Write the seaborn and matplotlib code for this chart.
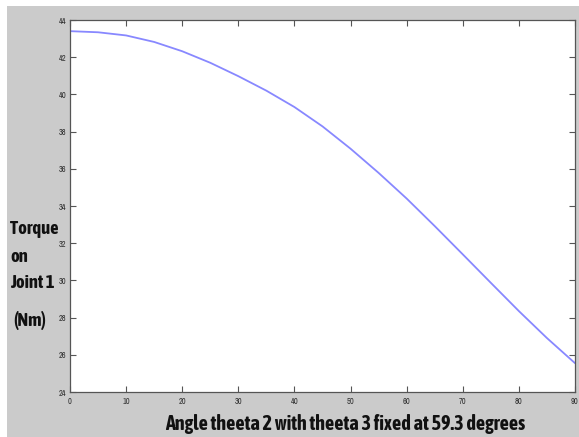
import matplotlib
matplotlib.use("Agg")
import matplotlib.pyplot as plt
from matplotlib import font_manager
from matplotlib.patches import Rectangle
import seaborn as sns

# Joint-1 torque as theta 2 sweeps, with theta 3 held at 59.3 degrees
angle_deg = [0, 5, 10, 15, 20, 25, 30, 35, 40, 45, 50, 55, 60, 65, 70, 75, 80, 85, 90]
torque_nm = [43.40, 43.34, 43.17, 42.82, 42.32, 41.70, 40.98, 40.20, 39.32, 38.28,
             37.08, 35.78, 34.40, 32.92, 31.40, 29.87, 28.35, 26.90, 25.55]

x_ticks = [0, 10, 20, 30, 40, 50, 60, 70, 80, 90]
y_ticks = [24, 26, 28, 30, 32, 34, 36, 38, 40, 42, 44]

ylabel_lines = ["Torque", "on", "Joint 1", "(Nm)"]
xlabel_text = "Angle theeta 2 with theeta 3 fixed at 59.3 degrees"

sns.set_theme(style="ticks")


def _weight(f):
    w = f.weight
    if isinstance(w, int):
        return w
    return font_manager.weight_dict.get(str(w), 400)


def condensed_fonts():
    """Installed condensed sans faces: (regular family name, bold face path)."""
    cands = []
    for f in font_manager.fontManager.ttflist:
        n = f.name.lower()
        if ("narrow" in n or "condensed" in n) and "mono" not in n and "serif" not in n \
                and f.style == "normal":
            cands.append(f)
    if not cands:
        return None, None

    def rank(f):
        lib = 0 if "liberation" in f.name.lower() else 1
        return (lib, abs(_weight(f) - 700))

    regular = sorted(cands, key=lambda f: (0 if "liberation" in f.name.lower() else 1,
                                           abs(_weight(f) - 400)))[0]
    bold = sorted(cands, key=rank)[0]
    bold_path = bold.fname if 600 <= _weight(bold) <= 750 else None
    return regular.name, bold_path


cond_name, cond_bold_path = condensed_fonts()
plt.rcParams["font.family"] = ([cond_name] if cond_name else []) + ["Liberation Sans", "DejaVu Sans"]

if cond_bold_path:
    label_font = dict(fontproperties=font_manager.FontProperties(fname=cond_bold_path))
    ylab_size, xlab_size = 13.3, 14.5
else:
    label_font = dict(family=["Liberation Sans", "DejaVu Sans"], fontweight="bold")
    ylab_size, xlab_size = 11.0, 11.2

W, H = 579, 437
fig = plt.figure(figsize=(W / 100, H / 100), dpi=100, facecolor="#cbcbcb")
# thin white margins along the top and left edges
fig.patches.append(Rectangle((0, 1 - 6 / H), 1, 6 / H, transform=fig.transFigure,
                             facecolor="white", edgecolor="none", zorder=0))
fig.patches.append(Rectangle((0, 0), 7 / W, 1, transform=fig.transFigure,
                             facecolor="white", edgecolor="none", zorder=0))

ax = fig.add_axes([70 / W, 1 - 392 / H, 505 / W, 372 / H])
ax.set_facecolor("white")

sns.lineplot(x=angle_deg, y=torque_nm, ax=ax, color="#8888ff", linewidth=1.3)

ax.set_xlim(0, 90)
ax.set_ylim(24, 44)
ax.set_xticks(x_ticks)
ax.set_yticks(y_ticks)
ax.set_xticklabels([str(t) for t in x_ticks])
ax.set_yticklabels([str(t) for t in y_ticks])
ax.tick_params(direction="in", length=4, width=0.8, color="#555555",
               labelsize=6, labelcolor="#333333", top=True, right=True)
ax.tick_params(axis="x", pad=3.5)
ax.tick_params(axis="y", pad=2.5)
for side in ["left", "right", "top", "bottom"]:
    ax.spines[side].set_visible(True)
    ax.spines[side].set_color("#555555")
    ax.spines[side].set_linewidth(0.9)

# stacked vertical-axis caption on the left margin
label_y = [229, 257, 283, 320]
label_x = [10, 10, 10, 13]
for text, yy, xx in zip(ylabel_lines, label_y, label_x):
    t = fig.text(xx / W, 1 - yy / H, text, ha="left", va="center",
                 color="#111111", **label_font)
    t.set_fontsize(ylab_size)

t = fig.text(345 / W, 1 - 424 / H, xlabel_text, ha="center", va="center",
             color="#111111", **label_font)
t.set_fontsize(xlab_size)

fig.savefig("out.png", dpi=100, facecolor=fig.get_facecolor())
